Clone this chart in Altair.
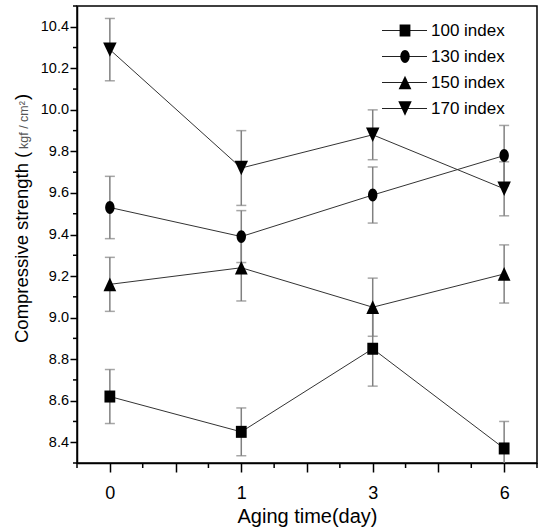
import altair as alt
import pandas as pd

days = ['0', '1', '3', '6']
series = ['100 index', '130 index', '150 index', '170 index']
mean_100 = [8.62, 8.45, 8.85, 8.37]
err_100 = [0.13, 0.115, 0.18, 0.13]
mean_130 = [9.53, 9.39, 9.59, 9.78]
err_130 = [0.15, 0.125, 0.135, 0.145]
mean_150 = [9.16, 9.24, 9.05, 9.21]
err_150 = [0.13, 0.16, 0.14, 0.14]
mean_170 = [10.29, 9.72, 9.88, 9.62]
err_170 = [0.15, 0.18, 0.12, 0.13]
# marker outlines (slightly taller than wide, as in the original figure)
shapes = [
    'M-0.9,-1H0.9V1H-0.9Z',
    'M0.73,0A0.73,1 0 1,1 -0.73,0A0.73,1 0 1,1 0.73,0Z',
    'M0,-1L0.93,1L-0.93,1Z',
    'M0,1L0.93,-1L-0.93,-1Z',
]
sizes = [144, 210, 225, 225]
y_major = [round(8.4 + 0.2 * i, 1) for i in range(11)]
y_minor = [round(8.3 + 0.2 * i, 1) for i in range(12)]
x_major = [0.5 * i for i in range(7)]
x_minor = [-0.25 + 0.5 * i for i in range(8)]
x_title = 'Aging time(day)'
y_title_main = 'Compressive strength ('
y_title_unit = 'kgf / cm²'
y_title_end = ')'

rows = []
for s, m, e in zip(series, [mean_100, mean_130, mean_150, mean_170],
                   [err_100, err_130, err_150, err_170]):
    for i, (mv, ev) in enumerate(zip(m, e)):
        rows.append(dict(series=s, pos=i, day=days[i], mean=mv,
                         lo=round(mv - ev, 3), hi=round(mv + ev, 3)))
df = pd.DataFrame(rows)
leg_df = pd.DataFrame({'series': series, 'row': list(range(len(series)))})

FONT = 'Liberation Sans, Arial, sans-serif'

xscale = alt.Scale(domain=[-0.25, 3.25], nice=False, zero=False)
yscale = alt.Scale(domain=[8.3, 10.5], nice=False, zero=False)

lab_arr = '[' + ','.join("'" + d + "'" for d in days) + ']'
xaxis = alt.Axis(
    values=x_major,
    labelExpr="datum.value % 1 == 0 ? " + lab_arr + "[datum.value] : ''",
    tickSize=9,
    labelFontSize=18, labelBaseline='alphabetic', labelPadding=26,
    title=x_title, titleFontSize=20, titleFontWeight='normal',
    titleBaseline='alphabetic', titleY=59, labelFlush=False, labelOverlap=False,
)
yaxis = alt.Axis(
    values=y_major, format='.1f', tickSize=7,
    labelFontSize=14.5, labelPadding=1.5, title='', labelFlush=False, labelOverlap=False,
)

base = alt.Chart(df)
err_rule = base.mark_rule(color='#808080', strokeWidth=1.5, clip=True).encode(
    x=alt.X('pos:Q', scale=xscale, axis=xaxis),
    y=alt.Y('lo:Q', scale=yscale, axis=yaxis),
    y2='hi:Q',
)
caps = base.transform_fold(['lo', 'hi'], as_=['k', 'v']).mark_tick(
    orient='horizontal', size=10, thickness=1.5, color='#808080', clip=True
).encode(x='pos:Q', y='v:Q')
lines = base.mark_line(color='#333333', strokeWidth=1).encode(
    x='pos:Q', y='mean:Q', detail='series:N', order='pos:Q'
)
shape_enc = alt.Shape('series:N', scale=alt.Scale(domain=series, range=shapes), legend=None)
size_enc = alt.Size('series:N', scale=alt.Scale(domain=series, range=sizes), legend=None)
points = base.mark_point(filled=True, opacity=1, color='black', strokeWidth=0).encode(
    x='pos:Q', y='mean:Q', shape=shape_enc, size=size_enc
)

xmin_ticks = alt.Chart(pd.DataFrame({'v': x_minor})).mark_rule(
    color='black', strokeWidth=1.5).encode(
    x=alt.X('v:Q'), y=alt.value(457), y2=alt.value(462))
ymin_ticks = alt.Chart(pd.DataFrame({'v': y_minor})).mark_rule(
    color='black', strokeWidth=1.5).encode(
    y=alt.Y('v:Q'), x=alt.value(-4), x2=alt.value(0))

leg = alt.Chart(leg_df).transform_calculate(ly='24.5 + 26 * datum.row')
ly = alt.Y('ly:Q', scale=None, axis=None)
leg_rule = leg.mark_rule(color='#222222', strokeWidth=1.2).encode(
    x=alt.value(305), x2=alt.value(350), y=ly)
leg_pt = leg.mark_point(filled=True, opacity=1, color='black', strokeWidth=0).encode(
    x=alt.value(328), y=ly, shape=shape_enc, size=size_enc)
leg_txt = leg.mark_text(align='left', baseline='middle', font=FONT, fontSize=17,
                        color='black').encode(x=alt.value(354), y=ly, text='series:N')

yt1 = alt.Chart(pd.DataFrame({'t': [y_title_main]})).mark_text(
    angle=270, align='left', baseline='alphabetic', font=FONT, fontSize=18.5, color='black'
).encode(x=alt.value(-49), y=alt.value(337), text='t:N')
yt2 = alt.Chart(pd.DataFrame({'t': [y_title_unit]})).mark_text(
    angle=270, align='left', baseline='alphabetic', font=FONT, fontSize=12.5, color='#555555'
).encode(x=alt.value(-49), y=alt.value(143), text='t:N')
yt3 = alt.Chart(pd.DataFrame({'t': [y_title_end]})).mark_text(
    angle=270, align='left', baseline='alphabetic', font=FONT, fontSize=18.5, color='black'
).encode(x=alt.value(-49), y=alt.value(94), text='t:N')

chart = alt.layer(
    err_rule, caps, lines, points, xmin_ticks, ymin_ticks,
    leg_rule, leg_pt, leg_txt, yt1, yt2, yt3
).properties(
    width=460, height=457,
    autosize=alt.AutoSizeParams(type='none'),
    padding={'left': 77, 'top': 6, 'right': 5, 'bottom': 69},
).configure_view(
    stroke='black', strokeWidth=1.5
).configure_axis(
    domainColor='black', domainWidth=1.5, tickColor='black', tickWidth=1.5,
    labelColor='black', labelFont=FONT, titleFont=FONT, titleColor='black', grid=False
)

chart.save('out.html', embed_options={'renderer': 'svg', 'actions': False})
